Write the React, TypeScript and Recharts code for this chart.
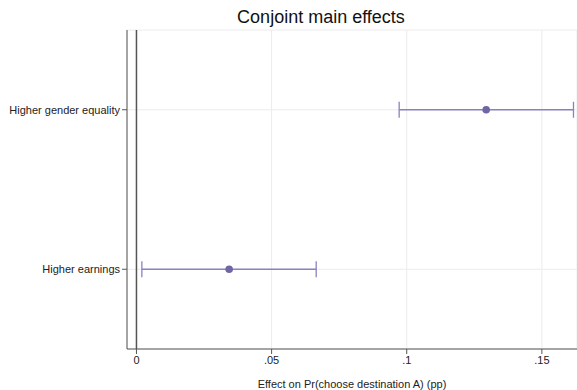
import React from "react";
import {
  ScatterChart,
  Scatter,
  XAxis,
  YAxis,
  CartesianGrid,
  ErrorBar,
  ReferenceLine,
} from "recharts";

const categories = ["Higher earnings", "Higher gender equality"];
const estimates = [0.0343, 0.1294];
const lowerCI = [0.002, 0.0972];
const upperCI = [0.0665, 0.1617];
const xTicks = [0, 0.05, 0.1, 0.15];
const xTickLabels = ["0", ".05", ".1", ".15"];

const data = categories.map((c, i) => ({
  name: c,
  pos: i + 1,
  est: estimates[i],
  err: [estimates[i] - lowerCI[i], upperCI[i] - estimates[i]],
}));

const FONT = "'Liberation Sans', Arial, Helvetica, sans-serif";

const YTick = (props: any) => {
  const { x, y, payload } = props;
  return (
    <text x={x} y={y} dy={4} textAnchor="end" fontFamily={FONT} fontSize={11} fill="#222">
      {categories[payload.value - 1] ?? ""}
    </text>
  );
};

export default function App() {
  return (
    <div style={{ position: "absolute", left: 0, top: 0, width: 577, height: 390, background: "#fff" }}>
      <ScatterChart width={577} height={390} margin={{ top: 30, right: 0, bottom: 0, left: 0 }}>
        <text x={321} y={23} textAnchor="middle" fontFamily={FONT} fontSize={18} fill="#111">
          Conjoint main effects
        </text>
        <CartesianGrid stroke="#ececec" strokeWidth={1} />
        <XAxis
          type="number"
          dataKey="est"
          domain={[-0.0035, 0.163]}
          ticks={xTicks}
          tickFormatter={(v: number) => xTickLabels[xTicks.indexOf(v)] ?? String(v)}
          height={41}
          stroke="#555"
          tickSize={5}
          tick={{ fill: "#222", fontSize: 11, fontFamily: FONT }}
          allowDataOverflow
          label={{
            value: "Effect on Pr(choose destination A) (pp)",
            position: "insideBottom",
            offset: 2,
            fill: "#222",
            fontSize: 11,
            fontFamily: FONT,
          }}
        />
        <YAxis
          type="number"
          dataKey="pos"
          domain={[0.5, 2.5]}
          ticks={[1, 2]}
          width={127}
          stroke="#555"
          tickSize={5}
          tick={<YTick />}
        />
        <ReferenceLine x={0} stroke="#555" strokeWidth={1.5} />
        <Scatter
          data={data}
          fill="#6f66a6"
          isAnimationActive={false}
          shape={(props: any) => <circle cx={props.cx} cy={props.cy} r={3.8} fill="#6f66a6" />}
        >
          <ErrorBar dataKey="err" direction="x" width={8} stroke="#8a82bf" strokeWidth={1.3} />
        </Scatter>
      </ScatterChart>
    </div>
  );
}
